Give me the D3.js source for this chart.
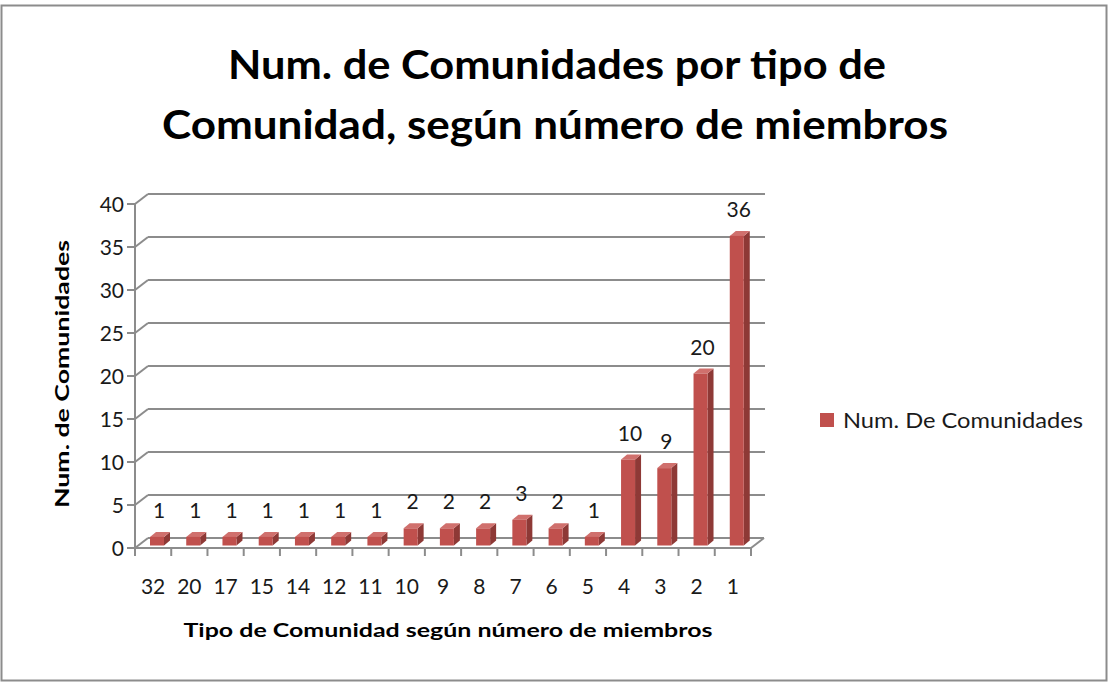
<!DOCTYPE html>
<html><head><meta charset="utf-8">
<script src="https://cdn.jsdelivr.net/npm/d3@7"></script>
<style>body{margin:0;background:#fff}svg{display:block}</style>
</head><body>
<script>
const categories = ["32","20","17","15","14","12","11","10","9","8","7","6","5","4","3","2","1"];
const values = [1,1,1,1,1,1,1,2,2,2,3,2,1,10,9,20,36];
const yTicks = [0,5,10,15,20,25,30,35,40];
const seriesName = "Num. De Comunidades";
const titleLines = ["Num. de Comunidades por tipo de","Comunidad, según número de miembros"];
const yTitle = "Num. de Comunidades";
const xTitle = "Tipo de Comunidad según número de miembros";

const W = 1109, H = 684;
const FONT = "Lato, 'Open Sans', sans-serif";
const svg = d3.select("body").append("svg").attr("width", W).attr("height", H);

svg.append("rect").attr("x",1.5).attr("y",5.5).attr("width",W-4).attr("height",H-9)
  .attr("fill","#fff").attr("stroke","#8c8c8c").attr("stroke-width",2);

const x = d3.scaleBand().domain(categories).range([135, 751]);
const y = d3.scaleLinear().domain([0, 40]).range([548, 204]);
const DX = 13, DY = -10;
const xEnd = 751;
const grid = "#8c8c8c";

yTicks.forEach(t => {
  const yy = y(t);
  if (t > 0) {
    svg.append("line").attr("x1",135+DX).attr("x2",xEnd+14).attr("y1",yy+DY).attr("y2",yy+DY)
      .attr("stroke",grid).attr("stroke-width",2);
  }
  svg.append("line").attr("x1",135).attr("y1",yy).attr("x2",135+DX).attr("y2",yy+DY)
    .attr("stroke",grid).attr("stroke-width",2);
  svg.append("line").attr("x1",127).attr("x2",135).attr("y1",yy).attr("y2",yy)
    .attr("stroke",grid).attr("stroke-width",2);
  svg.append("text").attr("x",124).attr("y",yy+7.5).attr("text-anchor","end")
    .attr("font-family",FONT).attr("font-size",21).attr("fill","#1a1a1a").text(t);
});
svg.append("line").attr("x1",135+DX).attr("x2",xEnd+DX).attr("y1",y(0)+DY).attr("y2",y(0)+DY).attr("stroke",grid).attr("stroke-width",2);
svg.append("line").attr("x1",135).attr("x2",xEnd).attr("y1",y(0)).attr("y2",y(0)).attr("stroke",grid).attr("stroke-width",2);
svg.append("line").attr("x1",xEnd).attr("x2",xEnd+DX).attr("y1",y(0)).attr("y2",y(0)+DY).attr("stroke",grid).attr("stroke-width",2);
svg.append("line").attr("x1",135).attr("x2",135).attr("y1",y(40)).attr("y2",y(0)).attr("stroke",grid).attr("stroke-width",2);
categories.forEach(c => {
  svg.append("line").attr("x1",x(c)).attr("x2",x(c)).attr("y1",y(0)).attr("y2",y(0)+8).attr("stroke",grid).attr("stroke-width",2);
});
svg.append("line").attr("x1",xEnd).attr("x2",xEnd).attr("y1",y(0)).attr("y2",y(0)+8).attr("stroke",grid).attr("stroke-width",2);
svg.selectAll(".xl").data(categories).enter().append("text")
  .attr("x", d => x(d)+x.bandwidth()/2).attr("y", 594).attr("text-anchor","middle")
  .attr("font-family",FONT).attr("font-size",21).attr("fill","#1a1a1a").text(d => d);

const offX = 3, offY = -2.5, bw = 14, bdx = 6, bdy = -5;
const data = categories.map((c,i) => ({c, v: values[i]}));
const g = svg.append("g");
data.forEach(d => {
  const x0 = x(d.c) + 12 + offX, x1 = x0 + bw;
  const yb = y(0) + offY, yt = y(d.v) + offY;
  g.append("polygon").attr("points",`${x1},${yt} ${x1+bdx},${yt+bdy} ${x1+bdx},${yb+bdy} ${x1},${yb}`).attr("fill","#8e3936");
  g.append("polygon").attr("points",`${x0},${yt} ${x0+bdx},${yt+bdy} ${x1+bdx},${yt+bdy} ${x1},${yt}`).attr("fill","#d0706d");
  g.append("rect").attr("x",x0).attr("y",yt).attr("width",bw).attr("height",yb-yt).attr("fill","#c0504d");
  g.append("text").attr("x",x0+bw/2+2).attr("y",yt-19).attr("text-anchor","middle")
    .attr("font-family",FONT).attr("font-size",21).attr("fill","#1a1a1a").text(d.v);
});

const tl = [{t:titleLines[0], y:79, len:658, cx:557},{t:titleLines[1], y:139, len:786, cx:555}];
tl.forEach(o => svg.append("text").attr("x",o.cx).attr("y",o.y).attr("text-anchor","middle")
  .attr("font-family",FONT).attr("font-weight","bold").attr("font-size",41).attr("fill","#000")
  .attr("textLength",o.len).attr("lengthAdjust","spacingAndGlyphs").text(o.t));
svg.append("text").attr("transform","translate(69,374) rotate(-90)").attr("text-anchor","middle")
  .attr("font-family",FONT).attr("font-weight","bold").attr("font-size",19).attr("fill","#000")
  .attr("textLength",268).attr("lengthAdjust","spacingAndGlyphs").text(yTitle);
svg.append("text").attr("x",448).attr("y",637).attr("text-anchor","middle")
  .attr("font-family",FONT).attr("font-weight","bold").attr("font-size",19).attr("fill","#000")
  .attr("textLength",529).attr("lengthAdjust","spacingAndGlyphs").text(xTitle);

svg.append("rect").attr("x",820).attr("y",413).attr("width",14).attr("height",14).attr("fill","#c0504d");
svg.append("text").attr("x",843).attr("y",428).attr("font-family",FONT).attr("font-size",21).attr("fill","#1a1a1a")
  .attr("textLength",240).attr("lengthAdjust","spacingAndGlyphs").text(seriesName);
</script>
</body></html>
